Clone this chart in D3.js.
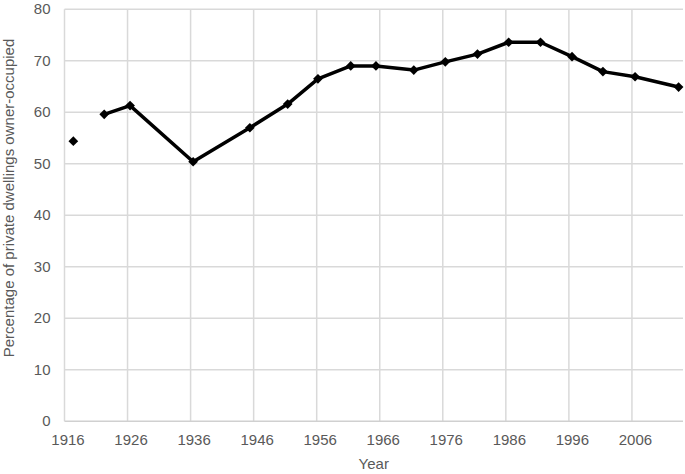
<!DOCTYPE html>
<html>
<head>
<meta charset="utf-8">
<script src="https://cdn.jsdelivr.net/npm/d3@7"></script>
<style>
body{margin:0;background:#fff;}
svg{display:block;font-family:"Liberation Sans",Arial,sans-serif;}
</style>
</head>
<body>
<svg width="685" height="474"></svg>
<script>
/* data (census points, x as plotted) */
let years=[1917.4,1922.3,1926.4,1936.4,1945.4,1951.4,1956.2,1961.4,1965.4,1971.4,1976.4,1981.5,1986.45,1991.5,1996.5,2001.4,2006.5,2013.4]
let values=[54.4,59.6,61.3,50.4,57.0,61.6,66.5,69.0,69.0,68.2,69.8,71.3,73.6,73.6,70.8,67.9,66.9,64.9]
let xTicks=[1916,1926,1936,1946,1956,1966,1976,1986,1996,2006]
let yTicks=[0,10,20,30,40,50,60,70,80]

let svg=d3.select('svg')
let m={left:64.5,right:683,top:9.3,bottom:421.3}

let x=d3.scaleLinear().domain([1916,2014.1]).range([m.left,m.right])
let y=d3.scaleLinear().domain([0,80]).range([m.bottom,m.top])

let pts=years.map((d,i)=>({year:d,val:values[i]}))

/*grid*/
svg.append('g').selectAll('line.h')
  .data(yTicks.slice(1))
  .enter().append('line')
  .attr('x1',m.left).attr('x2',m.right)
  .attr('y1',d=>y(d)).attr('y2',d=>y(d))
  .attr('stroke','#d9d9d9').attr('stroke-width',1.5)

svg.append('g').selectAll('line.v')
  .data(xTicks)
  .enter().append('line')
  .attr('x1',d=>x(d)).attr('x2',d=>x(d))
  .attr('y1',m.top).attr('y2',m.bottom)
  .attr('stroke','#d9d9d9').attr('stroke-width',1.5)

// bottom axis line
svg.append('line')
  .attr('x1',m.left).attr('x2',m.right)
  .attr('y1',y(0)).attr('y2',y(0))
  .attr('stroke','#d0d0d0').attr('stroke-width',1.5)

/*tick labels*/
svg.append('g').selectAll('text')
  .data(yTicks)
  .enter().append('text')
  .attr('x',50.5)
  .attr('y',d=>y(d)+5)
  .attr('text-anchor','end')
  .attr('font-size',15)
  .attr('fill','#595959')
  .text(d=>d)

svg.append('g').selectAll('text')
  .data(xTicks)
  .enter().append('text')
  .attr('x',d=>x(d)+3.5)
  .attr('y',445)
  .attr('text-anchor','middle')
  .attr('font-size',15)
  .attr('fill','#595959')
  .text(d=>d)

svg.append('text')
  .attr('x',(m.left+m.right)/2)
  .attr('y',469)
  .attr('text-anchor','middle')
  .attr('font-size',15)
  .attr('fill','#595959')
  .text('Year')

svg.append('text')
  .attr('transform','translate(14,198) rotate(-90)')
  .attr('text-anchor','middle')
  .attr('font-size',15)
  .attr('fill','#595959')
  .text('Percentage of private dwellings owner-occupied')

/*line - first point stands alone*/
let line=d3.line().x(d=>x(d.year)).y(d=>y(d.val))
svg.append('path')
  .datum(pts.slice(1))
  .attr('d',line)
  .attr('fill','none')
  .attr('stroke','#000')
  .attr('stroke-width',3.5)
  .attr('stroke-linejoin','round')

svg.append('g').selectAll('path')
  .data(pts)
  .enter().append('path')
  .attr('d',d3.symbol().type(d3.symbolDiamond2).size(60))
  .attr('transform',d=>'translate('+x(d.year)+','+y(d.val)+')')
  .attr('fill','#000')
</script>
</body>
</html>
